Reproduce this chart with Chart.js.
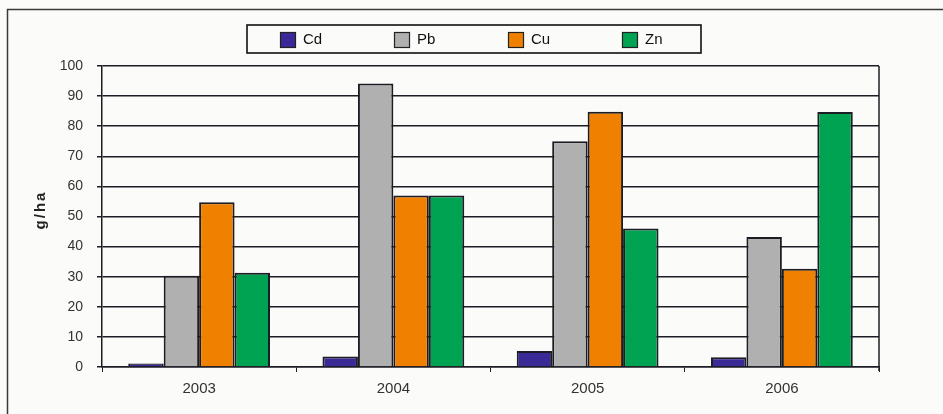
<!DOCTYPE html>
<html>
<head>
<meta charset="utf-8">
<script src="https://cdn.jsdelivr.net/npm/chart.js@4"></script>
<style>
  html, body { margin: 0; padding: 0; background: #fbfbfa; }
  #wrap { width: 943px; height: 414px; }
</style>
</head>
<body>
<div id="wrap"><canvas id="chart" width="943" height="414"></canvas></div>
<script>
// ─── Data ────────────────────────────────────────────────────────
const YEARS = ['2003', '2004', '2005', '2006'];
const METALS = ['Cd', 'Pb', 'Cu', 'Zn'];
const CD = [1.2, 3.5, 5.3, 3.2];
const PB = [30.3, 94.2, 75.0, 43.2];
const CU = [54.7, 57.0, 84.8, 32.6];
const ZN = [31.3, 57.0, 46.0, 84.7];
const Y_TICKS = [0, 10, 20, 30, 40, 50, 60, 70, 80, 90, 100];
const COLORS = ['#3a2a98', '#b0b0b0', '#f08000', '#00a352'];

const FONT = '"Liberation Sans", Arial, sans-serif';
const INK  = '#1c1c24';

// frame, plot border and boxed legend (drawn by hand like the original)
const decor = {
  id: 'decor',
  beforeDraw(chart) {
    const { ctx } = chart;
    ctx.save();
    ctx.fillStyle = '#fbfbfa';
    ctx.fillRect(0, 0, chart.width, chart.height);
    ctx.restore();
  },
  afterDraw(chart) {
    const { ctx, chartArea: a } = chart;
    ctx.save();
    // outer frame (left + top visible)
    ctx.strokeStyle = '#3a3a3a';
    ctx.lineWidth = 1.5;
    ctx.beginPath();
    ctx.moveTo(7.5, chart.height + 2);
    ctx.lineTo(7.5, 9.5);
    ctx.lineTo(chart.width + 2, 9.5);
    ctx.stroke();
    // right plot edge
    ctx.strokeStyle = INK;
    ctx.beginPath();
    ctx.moveTo(a.right, a.top);
    ctx.lineTo(a.right, a.bottom + 4);
    ctx.stroke();
    // legend box
    ctx.lineWidth = 1.6;
    ctx.strokeStyle = '#111';
    ctx.strokeRect(247, 25, 454, 28);
    ctx.font = '15px ' + FONT;
    ctx.textBaseline = 'middle';
    chart.data.datasets.forEach((ds, i) => {
      const x = 280 + i * 114;
      ctx.fillStyle = ds.backgroundColor;
      ctx.fillRect(x, 32, 15, 15);
      ctx.lineWidth = 1.2;
      ctx.strokeStyle = '#222';
      ctx.strokeRect(x + 0.5, 32.5, 15, 15);
      ctx.fillStyle = '#111';
      ctx.fillText(ds.label, x + 23, 40);
    });
    // y axis title, spaced out a little like the source
    ctx.translate(41, 210);
    ctx.rotate(-Math.PI / 2);
    ctx.font = 'bold 15px ' + FONT;
    ctx.letterSpacing = '2px';
    ctx.textAlign = 'center';
    ctx.fillStyle = '#222';
    ctx.fillText('g/ha', 0, 0);
    ctx.restore();
  }
};

const series = [CD, PB, CU, ZN];

new Chart(document.getElementById('chart').getContext('2d'), {
  type: 'bar',
  data: {
    labels: YEARS,
    datasets: METALS.map((m, i) => ({
      label: m,
      data: series[i],
      backgroundColor: COLORS[i],
      borderColor: INK,
      borderWidth: 2,
      categoryPercentage: 0.73,
      barPercentage: 1.0,
    })),
  },
  options: {
    responsive: false,
    animation: false,
    layout: { padding: { top: 66, right: 64, bottom: 0, left: 0 } },
    plugins: { legend: { display: false }, tooltip: { enabled: false } },
    scales: {
      x: {
        afterFit: s => { s.height = 47; },
        grid: { offset: true, drawOnChartArea: false, drawTicks: true, tickLength: 5, color: INK, lineWidth: 1 },
        border: { display: true, color: INK, width: 1.5 },
        ticks: { font: { family: FONT, size: 15 }, color: '#333', padding: 8 },
      },
      y: {
        min: 0, max: 100,
        afterFit: s => { s.width = 102; },
        afterBuildTicks: s => { s.ticks = Y_TICKS.map(v => ({ value: v })); },
        grid: { color: INK, lineWidth: 1.5, drawTicks: true, tickLength: 5 },
        border: { display: true, color: INK, width: 1.5 },
        ticks: { font: { family: FONT, size: 14 }, color: '#333', padding: 14 },
      },
    },
  },
  plugins: [decor],
});
</script>
</body>
</html>
